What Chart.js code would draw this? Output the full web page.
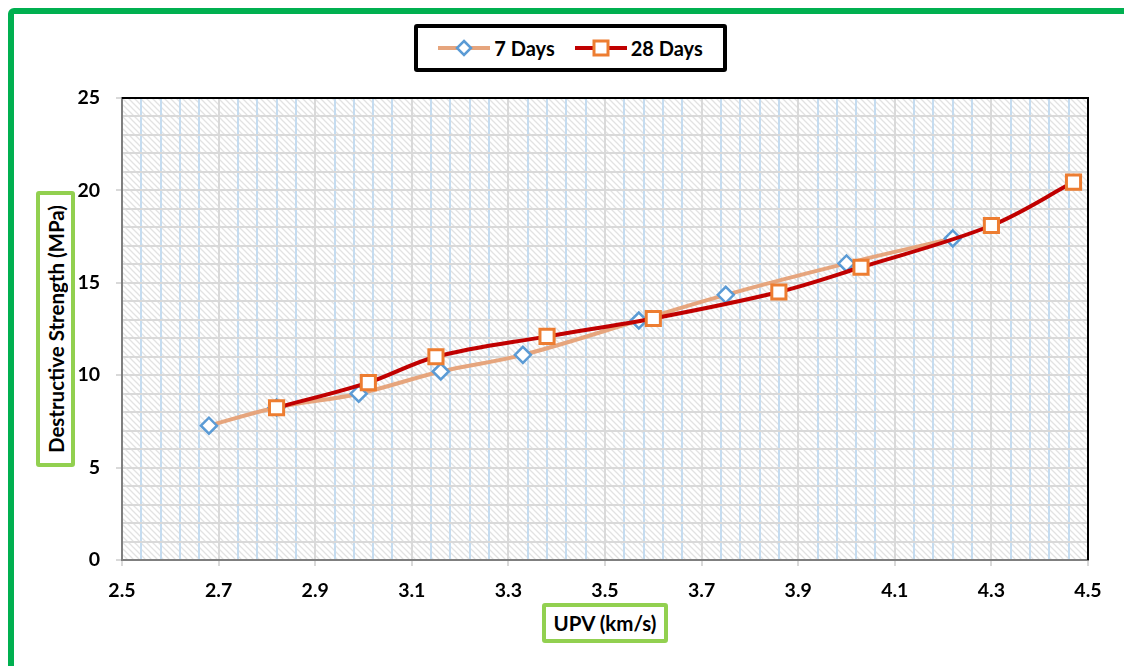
<!DOCTYPE html>
<html>
<head>
<meta charset="utf-8">
<script src="https://cdn.jsdelivr.net/npm/chart.js@4.4.0/dist/chart.umd.min.js"></script>
<style>
  body { margin: 0; background: #fff; font-family: Lato, "Open Sans", sans-serif; }
  #wrap { position: relative; width: 1124px; height: 666px; overflow: hidden; }
  #frame { position: absolute; left: 8px; top: 8px; width: 1200px; height: 800px;
    border: 6px solid #00B050; border-radius: 6px; }
  #chart { position: absolute; left: 0; top: 0; }
  .legend { position: absolute; left: 414px; top: 24px; width: 305px; height: 40px;
    border: 4px solid #000; border-radius: 3px; background: #fff;
    display: flex; align-items: center; justify-content: center; gap: 20px;
    font-weight: bold; font-size: 20px; color: #000; }
  .legend .item { display: flex; align-items: center; gap: 4px; }
  .boxed { position: absolute; border: 4px solid #92D050; border-radius: 3px; background: #fff;
    font-weight: bold; font-size: 20.5px; color: #000; display: flex; align-items: center; justify-content: center;
    box-sizing: border-box; }
  #ytitle { left: 36px; top: 191px; width: 39px; height: 276px; }
  #ytitle span { writing-mode: vertical-rl; transform: rotate(180deg); white-space: nowrap; }
  #xtitle { left: 542px; top: 603px; width: 126px; height: 40px; }
</style>
</head>
<body>
<div id="wrap">
  <div id="frame"></div>
  <canvas id="chart" width="1124" height="666"></canvas>
  <div class="legend" id="legend"></div>
  <div class="boxed" id="ytitle"><span></span></div>
  <div class="boxed" id="xtitle"><span></span></div>
</div>
<script>
// values
const seriesNames = ["7 Days", "28 Days"];
const upv7 = [2.68, 2.82, 2.99, 3.16, 3.33, 3.57, 3.75, 4.0, 4.22];
const strength7 = [7.27, 8.25, 9.0, 10.2, 11.1, 12.96, 14.35, 16.05, 17.4];
const upv28 = [2.82, 3.01, 3.15, 3.38, 3.6, 3.86, 4.03, 4.3, 4.47];
const strength28 = [8.24, 9.6, 11.0, 12.1, 13.07, 14.5, 15.84, 18.1, 20.45];
const xTitle = "UPV (km/s)";
const yTitle = "Destructive Strength (MPa)";
const xMin = 2.5, xMax = 4.5, xMajor = 0.2, xMinor = 0.04;
const yMin = 0, yMax = 25, yMajor = 5, yMinor = 1;

const line7 = "#E6A57D", marker7 = "#5B9BD5";
const line28 = "#C00000", marker28 = "#ED7D31";

document.querySelector("#xtitle span").textContent = xTitle;
document.querySelector("#ytitle span").textContent = yTitle;

function steps(min, max, step) {
  const out = [];
  const n = Math.round((max - min) / step);
  for (let i = 0; i <= n; i++) out.push(Math.round((min + i * step) * 1000) / 1000);
  return out;
}
function isMajor(v, min, major) {
  const r = (v - min) / major;
  return Math.abs(r - Math.round(r)) < 1e-6;
}

// legend samples
function sample(lineColor, markerColor, shape) {
  const mk = shape === "diamond"
    ? `<polygon points="26,5 33,12 26,19 19,12" fill="#fff" stroke="${markerColor}" stroke-width="2.5"/>`
    : `<rect x="19" y="5" width="14" height="14" fill="#fff" stroke="${markerColor}" stroke-width="3"/>`;
  return `<svg width="52" height="24"><line x1="0" y1="12" x2="52" y2="12" stroke="${lineColor}" stroke-width="4"/>${mk}</svg>`;
}
document.getElementById("legend").innerHTML =
  `<div class="item">${sample(line7, marker7, "diamond")}<span>${seriesNames[0]}</span></div>` +
  `<div class="item">${sample(line28, marker28, "square")}<span>${seriesNames[1]}</span></div>`;

// hatched plot background
const tile = document.createElement("canvas");
tile.width = 6; tile.height = 6;
const tctx = tile.getContext("2d");
tctx.fillStyle = "#fff";
tctx.fillRect(0, 0, 6, 6);
tctx.strokeStyle = "#e2e2e2";
tctx.lineWidth = 1.3;
tctx.beginPath();
tctx.moveTo(-1, -1); tctx.lineTo(7, 7);
tctx.moveTo(-4, 2); tctx.lineTo(4, 10);
tctx.moveTo(2, -4); tctx.lineTo(10, 4);
tctx.stroke();

const plotBack = {
  id: "plotBack",
  beforeDraw(chart) {
    const { ctx, chartArea: a } = chart;
    ctx.save();
    ctx.fillStyle = ctx.createPattern(tile, "repeat");
    ctx.fillRect(a.left, a.top, a.right - a.left, a.bottom - a.top);
    ctx.restore();
  },
  afterDatasetsDraw(chart) {
    const { ctx, chartArea: a } = chart;
    ctx.save();
    ctx.strokeStyle = "#000";
    ctx.lineWidth = 2;
    ctx.beginPath();
    ctx.moveTo(a.left, a.top);
    ctx.lineTo(a.right, a.top);
    ctx.lineTo(a.right, a.bottom);
    ctx.stroke();
    ctx.restore();
  }
};

const font = { family: "Lato", size: 19.5, weight: "bold" };

new Chart(document.getElementById("chart"), {
  type: "line",
  data: {
    datasets: [
      {
        label: seriesNames[0],
        data: upv7.map((x, i) => ({ x, y: strength7[i] })),
        borderColor: line7,
        borderWidth: 4,
        tension: 0.35,
        pointStyle: "rectRot",
        pointRadius: 8,
        pointBorderWidth: 2.5,
        pointBorderColor: marker7,
        pointBackgroundColor: "#fff",
        order: 1
      },
      {
        label: seriesNames[1],
        data: upv28.map((x, i) => ({ x, y: strength28[i] })),
        borderColor: line28,
        borderWidth: 4,
        tension: 0.35,
        pointStyle: "rect",
        pointRadius: 10,
        pointBorderWidth: 3,
        pointBorderColor: marker28,
        pointBackgroundColor: "#fff",
        order: 0
      }
    ]
  },
  options: {
    responsive: false,
    animation: false,
    layout: { padding: { left: 0, top: 98, right: 36, bottom: 66 } },
    plugins: { legend: { display: false }, tooltip: { enabled: false } },
    scales: {
      x: {
        type: "linear",
        min: xMin,
        max: xMax,
        afterBuildTicks: (s) => { s.ticks = steps(xMin, xMax, xMinor).map(v => ({ value: v })); },
        afterFit: (s) => { s.height = 40; },
        ticks: {
          autoSkip: false,
          maxRotation: 0,
          padding: 13,
          color: "#000",
          font,
          callback: (v) => isMajor(v, xMin, xMajor) ? v.toFixed(1) : ""
        },
        grid: {
          lineWidth: 2,
          tickLength: 6,
          color: (c) => c.tick && isMajor(c.tick.value, xMin, xMajor) ? "#d9d9d9" : "#c5dcf0",
          tickColor: (c) => c.tick && isMajor(c.tick.value, xMin, xMajor) ? "#d9d9d9" : "rgba(0,0,0,0)"
        },
        border: { color: "#7f7f7f", width: 2 }
      },
      y: {
        min: yMin,
        max: yMax,
        afterBuildTicks: (s) => { s.ticks = steps(yMin, yMax, yMinor).map(v => ({ value: v })); },
        afterFit: (s) => { s.width = 122; },
        ticks: {
          autoSkip: false,
          padding: 16,
          color: "#000",
          font,
          callback: (v) => isMajor(v, yMin, yMajor) ? String(v) : ""
        },
        grid: {
          lineWidth: 2,
          tickLength: 6,
          color: "#d9d9d9",
          tickColor: (c) => c.tick && isMajor(c.tick.value, yMin, yMajor) ? "#d9d9d9" : "rgba(0,0,0,0)"
        },
        border: { color: "#7f7f7f", width: 2 }
      }
    }
  },
  plugins: [plotBack]
});
</script>
</body>
</html>
